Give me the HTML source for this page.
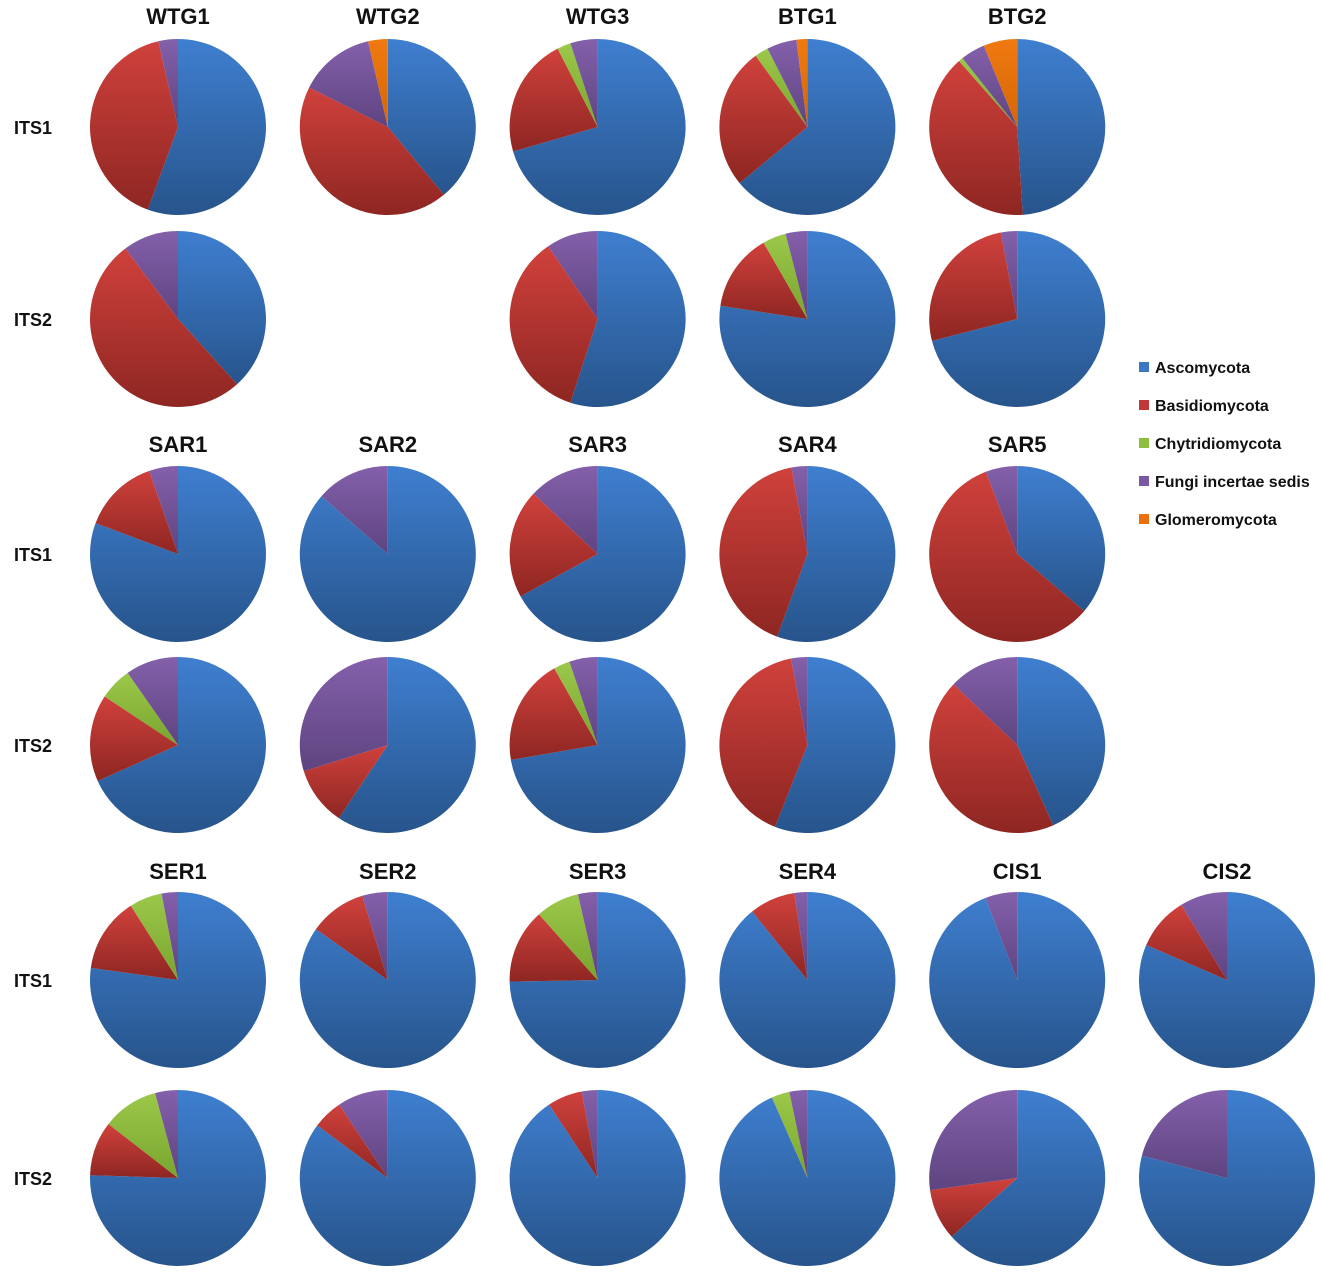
<!DOCTYPE html>
<html><head><meta charset="utf-8">
<style>
html,body{margin:0;padding:0;background:#fff;}
svg{display:block;font-family:"Liberation Sans",sans-serif;}
</style></head>
<body>
<svg id="chart" width="1322" height="1273" viewBox="0 0 1322 1273" xmlns="http://www.w3.org/2000/svg">
<defs>
<linearGradient id="g0" x1="0" y1="0" x2="0" y2="1"><stop offset="0" stop-color="#3f7fd0"/><stop offset="1" stop-color="#27548b"/></linearGradient>
<linearGradient id="g1" x1="0" y1="0" x2="0" y2="1"><stop offset="0" stop-color="#d0413c"/><stop offset="1" stop-color="#8e2622"/></linearGradient>
<linearGradient id="g2" x1="0" y1="0" x2="0" y2="1"><stop offset="0" stop-color="#9cc84a"/><stop offset="1" stop-color="#78a52e"/></linearGradient>
<linearGradient id="g3" x1="0" y1="0" x2="0" y2="1"><stop offset="0" stop-color="#8460ab"/><stop offset="1" stop-color="#5e4480"/></linearGradient>
<linearGradient id="g4" x1="0" y1="0" x2="0" y2="1"><stop offset="0" stop-color="#f07a10"/><stop offset="1" stop-color="#d56505"/></linearGradient>
</defs>
</svg>
<script>
const phyla = ["Ascomycota","Basidiomycota","Chytridiomycota","Fungi incertae sedis","Glomeromycota"];
const sampleNames = ["WTG1","WTG2","WTG3","BTG1","BTG2","WTG1","WTG3","BTG1","BTG2","SAR1","SAR2","SAR3","SAR4","SAR5","SAR1","SAR2","SAR3","SAR4","SAR5","SER1","SER2","SER3","SER4","CIS1","CIS2","SER1","SER2","SER3","SER4","CIS1","CIS2"];
const markers = ["ITS1","ITS1","ITS1","ITS1","ITS1","ITS2","ITS2","ITS2","ITS2","ITS1","ITS1","ITS1","ITS1","ITS1","ITS2","ITS2","ITS2","ITS2","ITS2","ITS1","ITS1","ITS1","ITS1","ITS1","ITS1","ITS2","ITS2","ITS2","ITS2","ITS2","ITS2"];
const asco   = [55.6,39,70.5,64,49, 38.3,55,77.4,71, 80.7,86.4,67,55.6,36.2, 68.3,59.4,72.3,56,43.3, 77.2,84.8,74.7,89.2,94.1,81.5, 75.5,85.2,90.7,93.4,63.4,79.1];
const basid  = [40.8,43.4,22,26,39.5, 51.5,35.5,14.3,26, 14,0,20,41.5,58, 16,10.8,19.5,41,43.8, 13.8,10.5,13.7,8.4,0,9.8, 10,5.5,6.4,0,9.4,0];
const chytr  = [0,0,2.5,2.5,0.8, 0,0,4.3,0, 0,0,0,0,0, 6,0,3,0,0, 6,0,8,0,0,0, 10.3,0,0,3.3,0,0];
const incert = [3.6,14,5,5.5,4.5, 10.2,9.5,4,3, 5.3,13.6,13,2.9,5.8, 9.7,29.8,5.2,3,12.9, 3,4.7,3.6,2.4,5.9,8.7, 4.2,9.3,2.9,3.3,27.2,20.9];
const glom   = [0,3.6,0,2,6.2, 0,0,0,0, 0,0,0,0,0, 0,0,0,0,0, 0,0,0,0,0,0, 0,0,0,0,0,0];
// layout grid indices (column, row) for each pie
const gridCol = [0,1,2,3,4, 0,2,3,4, 0,1,2,3,4, 0,1,2,3,4, 0,1,2,3,4,5, 0,1,2,3,4,5];
const gridRow = [0,0,0,0,0, 1,1,1,1, 2,2,2,2,2, 3,3,3,3,3, 4,4,4,4,4,4, 5,5,5,5,5,5];

const svg = document.getElementById('chart');
const NS = 'http://www.w3.org/2000/svg';
const colX = c => 178 + c*209.8;
const rowY = [127,319,554,745,980,1178];
const R = 88;
function mk(tag, attrs){const e=document.createElementNS(NS,tag);for(const k in attrs)e.setAttribute(k,attrs[k]);svg.appendChild(e);return e;}
function pt(cx,cy,f){const a=f*2*Math.PI;return [cx+R*Math.sin(a), cy-R*Math.cos(a)];}

for(let i=0;i<sampleNames.length;i++){
  const cx=colX(gridCol[i]), cy=rowY[gridRow[i]];
  const vals=[asco[i],basid[i],chytr[i],incert[i],glom[i]];
  const tot=vals.reduce((a,b)=>a+b,0);
  let acc=0;
  vals.forEach((v,k)=>{
    if(v<=0) return;
    const f0=acc/tot, f1=(acc+v)/tot; acc+=v;
    const [x0,y0]=pt(cx,cy,f0), [x1,y1]=pt(cx,cy,f1);
    const large=(f1-f0)>0.5?1:0;
    const p=mk('path',{d:`M${cx},${cy} L${x0.toFixed(2)},${y0.toFixed(2)} A${R},${R} 0 ${large} 1 ${x1.toFixed(2)},${y1.toFixed(2)} Z`,fill:`url(#g${k})`});
    
    
  });
}
// sample titles
const titleRows=[0,2,4], titleY=[16,444,871];
for(let i=0;i<sampleNames.length;i++){
  const r=titleRows.indexOf(gridRow[i]);
  if(r<0) continue;
  const t=mk('text',{x:colX(gridCol[i]),y:titleY[r]+8,'text-anchor':'middle','font-size':'22','font-weight':'bold',fill:'#111'});
  t.textContent=sampleNames[i];
  
  
}
// row labels
rowY.forEach((y,r)=>{
  const t=mk('text',{x:14,y:y+7,'font-size':'18','font-weight':'bold',fill:'#111'});
  t.textContent = r%2===0 ? 'ITS1' : 'ITS2';
  
  
});
// legend
const legCols=['#3a78c6','#c0393a','#8ebd3f','#7b58a3','#ea700c'];
phyla.forEach((p,k)=>{
  const y=368+k*38;
  const s=mk('rect',{x:1139,y:y-6,width:10,height:10,fill:legCols[k]});
  
  
  const t=mk('text',{x:1155,y:y+5,'font-size':'16','font-weight':'bold',fill:'#111'});
  t.textContent=p;
  
  
});
</script>
</body></html>
